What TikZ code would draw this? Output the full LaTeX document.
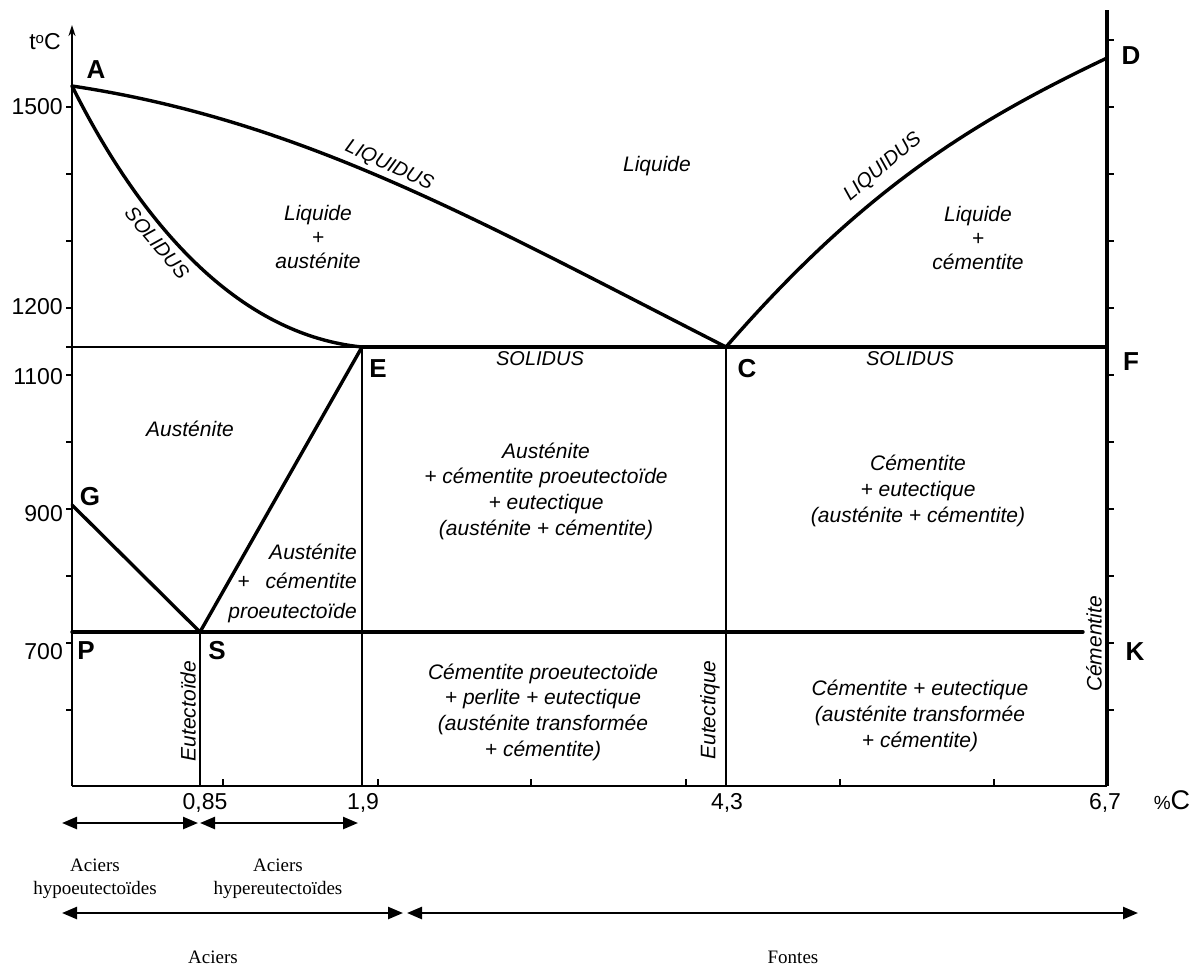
\documentclass[tikz,border=0pt]{standalone}
\usepackage{fontspec}
\setmainfont{Liberation Serif}
\setsansfont{Liberation Sans}
\usetikzlibrary{arrows.meta}
\begin{document}
\begin{tikzpicture}[x=1pt,y=-1pt,
  thickline/.style={line width=3.4pt, line cap=round, line join=round},
  thinline/.style={line width=1.7pt},
  axisline/.style={line width=2pt},
  region/.style={font=\sffamily\itshape\fontsize{21}{25.7}\selectfont, align=center, inner sep=0pt},
  ptlabel/.style={font=\sffamily\bfseries\fontsize{26}{28}\selectfont, inner sep=0pt},
  numlabel/.style={font=\sffamily\fontsize{23}{24}\selectfont, inner sep=0pt},
  curvelabel/.style={font=\sffamily\itshape\fontsize{20}{22}\selectfont, inner sep=0pt},
  seriflabel/.style={font=\rmfamily\fontsize{19}{23}\selectfont, align=center, inner sep=0pt},
  dimarrow/.style={line width=2.4pt, {Triangle[length=15pt,width=12pt]}-{Triangle[length=15pt,width=12pt]}}]

\fill[white] (0,0) rectangle (1200,966);
\useasboundingbox (0,0) rectangle (1200,966);

% key points
\coordinate (A) at (72,86);
\coordinate (C) at (726,347);
\coordinate (D) at (1107,58);
\coordinate (E) at (362,347);
\coordinate (F) at (1107,347);
\coordinate (G) at (72,505);
\coordinate (S) at (200,632);
\coordinate (P) at (72,632);
\coordinate (K) at (1083,632);
\coordinate (O) at (72,786);
\coordinate (Ytop) at (72,25);
\coordinate (R0) at (1107,786);
\coordinate (Rtop) at (1107,10);
\coordinate (Sb) at (200,786);
\coordinate (Eb) at (362,786);
\coordinate (Cb) at (726,786);
\coordinate (L1150) at (66,347);

% axes
\draw[axisline] (O) -- (R0);
\draw[axisline, -{Stealth[length=11pt,width=7pt]}] (O) -- (Ytop);
\draw[line width=3.4pt] (R0) -- (Rtop);
\foreach \y in {107,174,241,308,375,442,509,576,643,710}
  \draw[axisline] (66,\y) -- (72,\y);
\foreach \y in {40,107,174,241,308,375,442,509,576,643,710}
  \draw[axisline] (1107,\y) -- (1114,\y);
\foreach \x in {223,378,531,686,840,994}
  \draw[axisline] (\x,786) -- (\x,779);

% phase boundaries
\draw[thinline] (L1150) -- (E);
\draw[thickline] (E) -- (F);
\draw[thickline] (P) -- (K);
\draw[thinline] (S) -- (Sb);
\draw[thinline] (E) -- (Eb);
\draw[thinline] (C) -- (Cb);
\draw[thickline] (G) -- (S) -- (E);
% liquidus A-C
\draw[thickline] (A) .. controls (302,120.5) and (476,219.5) .. (C);
% solidus A-E
\draw[thickline] (A) .. controls (117,176) and (212,332) .. (E);
% liquidus C-D
\draw[thickline] (C) .. controls (866,186) and (977,120) .. (D);

% axis labels
\node[numlabel] (tC) at (45,42) {t\raisebox{6pt}{\fontsize{15}{15}\selectfont o}C};
\node[numlabel, anchor=east] (n1500) at (63,107) {1500};
\node[numlabel, anchor=east] (n1200) at (63,307) {1200};
\node[numlabel, anchor=east] (n1100) at (63,377) {1100};
\node[numlabel, anchor=east] (n900) at (63,514) {900};
\node[numlabel, anchor=east] (n700) at (63,652) {700};
\node[numlabel] (x085) at (205,803) {0,85};
\node[numlabel] (x19) at (363,803) {1,9};
\node[numlabel] (x43) at (727,803) {4,3};
\node[numlabel] (x67) at (1105,803) {6,7};
\node[inner sep=0pt, font=\sffamily] (pc) at (1172,800) {{\fontsize{19}{20}\selectfont\%}{\fontsize{27}{28}\selectfont C}};

% point letters
\node[ptlabel] (lA) at (96,70) {A};
\node[ptlabel] (lD) at (1131,56) {D};
\node[ptlabel] (lE) at (378,369) {E};
\node[ptlabel] (lC) at (747,369) {C};
\node[ptlabel] (lF) at (1131,362) {F};
\node[ptlabel] (lG) at (90,497) {G};
\node[ptlabel] (lP) at (86,651) {P};
\node[ptlabel] (lS) at (217,651) {S};
\node[ptlabel] (lK) at (1135,652) {K};

% curve labels
\node[curvelabel, rotate=-25] (liq1) at (389,166) {LIQUIDUS};
\node[curvelabel, rotate=40] (liq2) at (883,167) {LIQUIDUS};
\node[curvelabel, rotate=-50] (sol1) at (157,243) {SOLIDUS};
\node[curvelabel] (sol2) at (540,359) {SOLIDUS};
\node[curvelabel] (sol3) at (910,359) {SOLIDUS};

% region labels
\node[region] (r1) at (657,166) {Liquide};
\node[region, font=\sffamily\itshape\fontsize{21}{24}\selectfont] (r2) at (318,237) {Liquide\\+\\austénite};
\node[region, font=\sffamily\itshape\fontsize{21}{24}\selectfont] (r3) at (978,238) {Liquide\\+\\cémentite};
\node[region] (r4) at (190,429) {Austénite};
\node[region, align=right, anchor=east, font=\sffamily\itshape\fontsize{21}{29.5}\selectfont] (r5) at (357,583) {Austénite\\+\hspace{16pt}cémentite\\proeutectoïde};
\node[region] (r6) at (546,491) {Austénite\\+ cémentite proeutectoïde\\+ eutectique\\(austénite + cémentite)};
\node[region] (r7) at (918,491) {Cémentite\\+ eutectique\\(austénite + cémentite)};
\node[region] (r8) at (543,712) {Cémentite proeutectoïde\\+ perlite + eutectique\\(austénite transformée\\+ cémentite)};
\node[region] (r9) at (920,716) {Cémentite + eutectique\\(austénite transformée\\+ cémentite)};
\node[region, rotate=90] (v1) at (188,711) {Eutectoïde};
\node[region, rotate=90] (v2) at (710,710) {Eutectique};
\node[region, rotate=90] (v3) at (1094,644) {Cémentite};

% bottom ranges
\coordinate (a1l) at (62,823);
\coordinate (a1r) at (198,823);
\coordinate (a2l) at (200,823);
\coordinate (a2r) at (358,823);
\coordinate (b1l) at (62,913);
\coordinate (b1r) at (403,913);
\coordinate (b2l) at (407,913);
\coordinate (b2r) at (1138,913);
\draw[dimarrow] (a1l) -- (a1r);
\draw[dimarrow] (a2l) -- (a2r);
\draw[dimarrow] (b1l) -- (b1r);
\draw[dimarrow] (b2l) -- (b2r);
\node[seriflabel] (t1) at (95,879) {Aciers\\hypoeutectoïdes};
\node[seriflabel] (t2) at (278,879) {Aciers\\hypereutectoïdes};
\node[seriflabel] (t3) at (213,957) {Aciers};
\node[seriflabel] (t4) at (793,957) {Fontes};
\end{tikzpicture}
\end{document}
